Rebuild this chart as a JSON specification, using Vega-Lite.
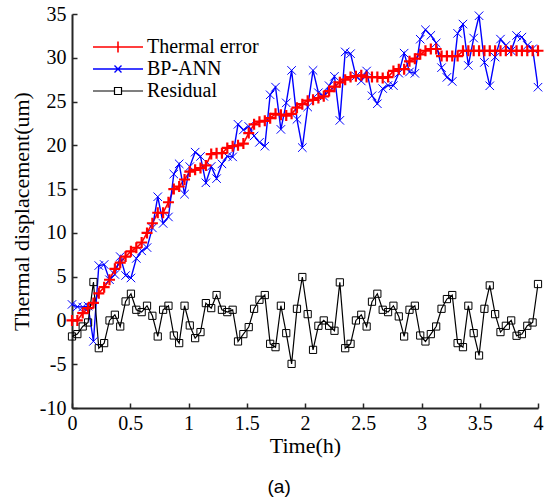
{
 "$schema": "https://vega.github.io/schema/vega-lite/v6.json",
 "width": 466,
 "height": 394,
 "autosize": {"type": "none"},
 "padding": {"left": 72, "top": 14, "right": 10, "bottom": 96},
 "background": "white",
 "config": {
  "view": {"stroke": null},
  "axis": {
   "grid": false,
   "domainColor": "#262626",
   "domainWidth": 2,
   "tickColor": "#262626",
   "tickWidth": 1.5,
   "tickSize": -5,
   "labelFont": "Liberation Serif",
   "labelFontSize": 20,
   "labelColor": "black",
   "titleFont": "Liberation Serif",
   "titleFontSize": 22,
   "titleFontWeight": "normal",
   "titleColor": "black",
   "labelFlush": false
  }
 },
 "title": {"text": "(a)", "orient": "bottom", "anchor": "middle", "frame": "bounds", "font": "Liberation Sans", "fontSize": 19, "fontWeight": "normal", "color": "black", "offset": 22},
 "data": {"values": [
{"t":0,"s":"Thermal error","v":0},{"t":0.046,"s":"Thermal error","v":0},{"t":0.092,"s":"Thermal error","v":0.84},{"t":0.138,"s":"Thermal error","v":1.4},{"t":0.184,"s":"Thermal error","v":2.0},{"t":0.23,"s":"Thermal error","v":3.1},{"t":0.276,"s":"Thermal error","v":3.8},{"t":0.322,"s":"Thermal error","v":4.65},{"t":0.368,"s":"Thermal error","v":5.9},{"t":0.414,"s":"Thermal error","v":6.6},
{"t":0.46,"s":"Thermal error","v":7.3},{"t":0.506,"s":"Thermal error","v":7.9},{"t":0.552,"s":"Thermal error","v":8.3},{"t":0.598,"s":"Thermal error","v":8.9},{"t":0.644,"s":"Thermal error","v":10.0},{"t":0.69,"s":"Thermal error","v":11.1},{"t":0.736,"s":"Thermal error","v":12.3},{"t":0.782,"s":"Thermal error","v":12.3},{"t":0.828,"s":"Thermal error","v":13.5},{"t":0.874,"s":"Thermal error","v":15.0},
{"t":0.92,"s":"Thermal error","v":15.3},{"t":0.966,"s":"Thermal error","v":16.1},{"t":1.011,"s":"Thermal error","v":17.0},{"t":1.057,"s":"Thermal error","v":17.2},{"t":1.103,"s":"Thermal error","v":17.4},{"t":1.149,"s":"Thermal error","v":17.7},{"t":1.195,"s":"Thermal error","v":19.0},{"t":1.241,"s":"Thermal error","v":19.1},{"t":1.287,"s":"Thermal error","v":19.1},{"t":1.333,"s":"Thermal error","v":19.7},
{"t":1.379,"s":"Thermal error","v":19.9},{"t":1.425,"s":"Thermal error","v":20.0},{"t":1.471,"s":"Thermal error","v":20.2},{"t":1.517,"s":"Thermal error","v":21.4},{"t":1.563,"s":"Thermal error","v":22.4},{"t":1.609,"s":"Thermal error","v":22.7},{"t":1.655,"s":"Thermal error","v":22.8},{"t":1.701,"s":"Thermal error","v":23.1},{"t":1.747,"s":"Thermal error","v":23.6},{"t":1.793,"s":"Thermal error","v":23.5},
{"t":1.839,"s":"Thermal error","v":23.4},{"t":1.885,"s":"Thermal error","v":23.6},{"t":1.931,"s":"Thermal error","v":24.3},{"t":1.977,"s":"Thermal error","v":24.7},{"t":2.023,"s":"Thermal error","v":25.1},{"t":2.069,"s":"Thermal error","v":25.2},{"t":2.115,"s":"Thermal error","v":25.4},{"t":2.161,"s":"Thermal error","v":25.6},{"t":2.207,"s":"Thermal error","v":26.2},{"t":2.253,"s":"Thermal error","v":26.7},
{"t":2.299,"s":"Thermal error","v":27.2},{"t":2.345,"s":"Thermal error","v":27.5},{"t":2.391,"s":"Thermal error","v":27.8},{"t":2.437,"s":"Thermal error","v":27.9},{"t":2.483,"s":"Thermal error","v":28.0},{"t":2.529,"s":"Thermal error","v":27.8},{"t":2.575,"s":"Thermal error","v":27.8},{"t":2.621,"s":"Thermal error","v":27.8},{"t":2.667,"s":"Thermal error","v":27.7},{"t":2.713,"s":"Thermal error","v":27.8},
{"t":2.759,"s":"Thermal error","v":28.5},{"t":2.805,"s":"Thermal error","v":28.7},{"t":2.851,"s":"Thermal error","v":28.7},{"t":2.897,"s":"Thermal error","v":29.6},{"t":2.943,"s":"Thermal error","v":29.9},{"t":2.989,"s":"Thermal error","v":30.4},{"t":3.034,"s":"Thermal error","v":30.8},{"t":3.08,"s":"Thermal error","v":31.0},{"t":3.126,"s":"Thermal error","v":31.0},{"t":3.172,"s":"Thermal error","v":30.2},
{"t":3.218,"s":"Thermal error","v":30.2},{"t":3.264,"s":"Thermal error","v":30.2},{"t":3.31,"s":"Thermal error","v":30.2},{"t":3.356,"s":"Thermal error","v":30.8},{"t":3.402,"s":"Thermal error","v":30.8},{"t":3.448,"s":"Thermal error","v":30.8},{"t":3.494,"s":"Thermal error","v":30.8},{"t":3.54,"s":"Thermal error","v":30.8},{"t":3.586,"s":"Thermal error","v":30.8},{"t":3.632,"s":"Thermal error","v":30.8},
{"t":3.678,"s":"Thermal error","v":30.8},{"t":3.724,"s":"Thermal error","v":30.8},{"t":3.77,"s":"Thermal error","v":30.8},{"t":3.816,"s":"Thermal error","v":30.8},{"t":3.862,"s":"Thermal error","v":30.8},{"t":3.908,"s":"Thermal error","v":30.8},{"t":3.954,"s":"Thermal error","v":30.8},{"t":4.0,"s":"Thermal error","v":30.8},
{"t":0,"s":"BP-ANN","v":1.83},{"t":0.046,"s":"BP-ANN","v":1.56},{"t":0.092,"s":"BP-ANN","v":1.53},{"t":0.138,"s":"BP-ANN","v":1.63},{"t":0.184,"s":"BP-ANN","v":-2.39},{"t":0.23,"s":"BP-ANN","v":6.27},{"t":0.276,"s":"BP-ANN","v":6.39},{"t":0.322,"s":"BP-ANN","v":4.65},{"t":0.368,"s":"BP-ANN","v":5.25},{"t":0.414,"s":"BP-ANN","v":7.29},
{"t":0.46,"s":"BP-ANN","v":5.13},{"t":0.506,"s":"BP-ANN","v":4.85},{"t":0.552,"s":"BP-ANN","v":7.08},{"t":0.598,"s":"BP-ANN","v":7.95},{"t":0.644,"s":"BP-ANN","v":8.32},{"t":0.69,"s":"BP-ANN","v":10.57},{"t":0.736,"s":"BP-ANN","v":14.13},{"t":0.782,"s":"BP-ANN","v":11.08},{"t":0.828,"s":"BP-ANN","v":11.82},{"t":0.874,"s":"BP-ANN","v":16.72},
{"t":0.92,"s":"BP-ANN","v":17.89},{"t":0.966,"s":"BP-ANN","v":14.42},{"t":1.011,"s":"BP-ANN","v":17.57},{"t":1.057,"s":"BP-ANN","v":19.22},{"t":1.103,"s":"BP-ANN","v":18.73},{"t":1.149,"s":"BP-ANN","v":15.72},{"t":1.195,"s":"BP-ANN","v":17.59},{"t":1.241,"s":"BP-ANN","v":16.2},{"t":1.287,"s":"BP-ANN","v":17.88},{"t":1.333,"s":"BP-ANN","v":18.75},
{"t":1.379,"s":"BP-ANN","v":18.68},{"t":1.425,"s":"BP-ANN","v":22.4},{"t":1.471,"s":"BP-ANN","v":21.76},{"t":1.517,"s":"BP-ANN","v":22.16},{"t":1.563,"s":"BP-ANN","v":21.07},{"t":1.609,"s":"BP-ANN","v":20.34},{"t":1.655,"s":"BP-ANN","v":19.9},{"t":1.701,"s":"BP-ANN","v":25.77},{"t":1.747,"s":"BP-ANN","v":26.65},{"t":1.793,"s":"BP-ANN","v":21.82},
{"t":1.839,"s":"BP-ANN","v":24.85},{"t":1.885,"s":"BP-ANN","v":28.56},{"t":1.931,"s":"BP-ANN","v":22.97},{"t":1.977,"s":"BP-ANN","v":19.74},{"t":2.023,"s":"BP-ANN","v":24.38},{"t":2.069,"s":"BP-ANN","v":28.56},{"t":2.115,"s":"BP-ANN","v":26.01},{"t":2.161,"s":"BP-ANN","v":25.6},{"t":2.207,"s":"BP-ANN","v":26.81},{"t":2.253,"s":"BP-ANN","v":27.88},
{"t":2.299,"s":"BP-ANN","v":22.85},{"t":2.345,"s":"BP-ANN","v":30.67},{"t":2.391,"s":"BP-ANN","v":30.47},{"t":2.437,"s":"BP-ANN","v":27.9},{"t":2.483,"s":"BP-ANN","v":27.35},{"t":2.529,"s":"BP-ANN","v":28.49},{"t":2.575,"s":"BP-ANN","v":25.66},{"t":2.621,"s":"BP-ANN","v":24.75},{"t":2.667,"s":"BP-ANN","v":26.48},{"t":2.713,"s":"BP-ANN","v":26.85},
{"t":2.759,"s":"BP-ANN","v":26.82},{"t":2.805,"s":"BP-ANN","v":28.24},{"t":2.851,"s":"BP-ANN","v":30.53},{"t":2.897,"s":"BP-ANN","v":28.38},{"t":2.943,"s":"BP-ANN","v":28.22},{"t":2.989,"s":"BP-ANN","v":32.12},{"t":3.034,"s":"BP-ANN","v":33.2},{"t":3.08,"s":"BP-ANN","v":32.56},{"t":3.126,"s":"BP-ANN","v":31.69},{"t":3.172,"s":"BP-ANN","v":28.87},
{"t":3.218,"s":"BP-ANN","v":27.76},{"t":3.264,"s":"BP-ANN","v":27.3},{"t":3.31,"s":"BP-ANN","v":32.79},{"t":3.356,"s":"BP-ANN","v":33.85},{"t":3.402,"s":"BP-ANN","v":29.12},{"t":3.448,"s":"BP-ANN","v":32.25},{"t":3.494,"s":"BP-ANN","v":34.8},{"t":3.54,"s":"BP-ANN","v":29.47},{"t":3.586,"s":"BP-ANN","v":26.8},{"t":3.632,"s":"BP-ANN","v":30.08},
{"t":3.678,"s":"BP-ANN","v":32.13},{"t":3.724,"s":"BP-ANN","v":31.41},{"t":3.77,"s":"BP-ANN","v":30.8},{"t":3.816,"s":"BP-ANN","v":32.55},{"t":3.862,"s":"BP-ANN","v":32.36},{"t":3.908,"s":"BP-ANN","v":31.41},{"t":3.954,"s":"BP-ANN","v":31.03},{"t":4.0,"s":"BP-ANN","v":26.64},
{"t":0,"s":"Residual","v":-1.83},{"t":0.046,"s":"Residual","v":-1.56},{"t":0.092,"s":"Residual","v":-0.69},{"t":0.138,"s":"Residual","v":-0.23},{"t":0.184,"s":"Residual","v":4.39},{"t":0.23,"s":"Residual","v":-3.17},{"t":0.276,"s":"Residual","v":-2.59},{"t":0.322,"s":"Residual","v":0},{"t":0.368,"s":"Residual","v":0.65},{"t":0.414,"s":"Residual","v":-0.69},
{"t":0.46,"s":"Residual","v":2.17},{"t":0.506,"s":"Residual","v":3.05},{"t":0.552,"s":"Residual","v":1.22},{"t":0.598,"s":"Residual","v":0.95},{"t":0.644,"s":"Residual","v":1.68},{"t":0.69,"s":"Residual","v":0.53},{"t":0.736,"s":"Residual","v":-1.83},{"t":0.782,"s":"Residual","v":1.22},{"t":0.828,"s":"Residual","v":1.68},{"t":0.874,"s":"Residual","v":-1.72},
{"t":0.92,"s":"Residual","v":-2.59},{"t":0.966,"s":"Residual","v":1.68},{"t":1.011,"s":"Residual","v":-0.57},{"t":1.057,"s":"Residual","v":-2.02},{"t":1.103,"s":"Residual","v":-1.33},{"t":1.149,"s":"Residual","v":1.98},{"t":1.195,"s":"Residual","v":1.41},{"t":1.241,"s":"Residual","v":2.9},{"t":1.287,"s":"Residual","v":1.22},{"t":1.333,"s":"Residual","v":0.95},
{"t":1.379,"s":"Residual","v":1.22},{"t":1.425,"s":"Residual","v":-2.4},{"t":1.471,"s":"Residual","v":-1.56},{"t":1.517,"s":"Residual","v":-0.76},{"t":1.563,"s":"Residual","v":1.33},{"t":1.609,"s":"Residual","v":2.36},{"t":1.655,"s":"Residual","v":2.9},{"t":1.701,"s":"Residual","v":-2.67},{"t":1.747,"s":"Residual","v":-3.05},{"t":1.793,"s":"Residual","v":1.68},
{"t":1.839,"s":"Residual","v":-1.45},{"t":1.885,"s":"Residual","v":-4.96},{"t":1.931,"s":"Residual","v":1.33},{"t":1.977,"s":"Residual","v":4.96},{"t":2.023,"s":"Residual","v":0.72},{"t":2.069,"s":"Residual","v":-3.36},{"t":2.115,"s":"Residual","v":-0.61},{"t":2.161,"s":"Residual","v":0},{"t":2.207,"s":"Residual","v":-0.61},{"t":2.253,"s":"Residual","v":-1.18},
{"t":2.299,"s":"Residual","v":4.35},{"t":2.345,"s":"Residual","v":-3.17},{"t":2.391,"s":"Residual","v":-2.67},{"t":2.437,"s":"Residual","v":0},{"t":2.483,"s":"Residual","v":0.65},{"t":2.529,"s":"Residual","v":-0.69},{"t":2.575,"s":"Residual","v":2.14},{"t":2.621,"s":"Residual","v":3.05},{"t":2.667,"s":"Residual","v":1.22},{"t":2.713,"s":"Residual","v":0.95},
{"t":2.759,"s":"Residual","v":1.68},{"t":2.805,"s":"Residual","v":0.46},{"t":2.851,"s":"Residual","v":-1.83},{"t":2.897,"s":"Residual","v":1.22},{"t":2.943,"s":"Residual","v":1.68},{"t":2.989,"s":"Residual","v":-1.72},{"t":3.034,"s":"Residual","v":-2.4},{"t":3.08,"s":"Residual","v":-1.56},{"t":3.126,"s":"Residual","v":-0.69},{"t":3.172,"s":"Residual","v":1.33},
{"t":3.218,"s":"Residual","v":2.44},{"t":3.264,"s":"Residual","v":2.9},{"t":3.31,"s":"Residual","v":-2.59},{"t":3.356,"s":"Residual","v":-3.05},{"t":3.402,"s":"Residual","v":1.68},{"t":3.448,"s":"Residual","v":-1.45},{"t":3.494,"s":"Residual","v":-4.0},{"t":3.54,"s":"Residual","v":1.33},{"t":3.586,"s":"Residual","v":4.0},{"t":3.632,"s":"Residual","v":0.72},
{"t":3.678,"s":"Residual","v":-1.33},{"t":3.724,"s":"Residual","v":-0.61},{"t":3.77,"s":"Residual","v":0},{"t":3.816,"s":"Residual","v":-1.75},{"t":3.862,"s":"Residual","v":-1.56},{"t":3.908,"s":"Residual","v":-0.61},{"t":3.954,"s":"Residual","v":-0.23},{"t":4.0,"s":"Residual","v":4.16}
 ]},
 "encoding": {
  "x": {"field": "t", "type": "quantitative", "scale": {"domain": [0, 4], "nice": false},
        "axis": {"title": "Time(h)", "values": [0, 0.5, 1, 1.5, 2, 2.5, 3, 3.5, 4], "labelExpr": "'' + datum.value", "labelPadding": 10, "titlePadding": 2}},
  "y": {"field": "v", "type": "quantitative", "scale": {"domain": [-10, 35], "nice": false},
        "axis": {"title": "Thermal displacement(um)", "values": [-10, -5, 0, 5, 10, 15, 20, 25, 30, 35], "labelExpr": "'' + datum.value", "labelPadding": 11, "titlePadding": 6}}
 },
 "layer": [
  {
   "mark": {"type": "line", "clip": true},
   "encoding": {
    "color": {"field": "s", "type": "nominal",
      "scale": {"domain": ["Thermal error", "BP-ANN", "Residual"], "range": ["#ff0000", "#0000ff", "#000000"]},
      "legend": {
        "title": null, "orient": "none", "legendX": 35, "legendY": 22, "padding": 0,
        "labelFont": "Liberation Serif", "labelFontSize": 20, "labelColor": "black",
        "symbolSize": 400, "symbolStrokeWidth": 2, "labelOffset": 18, "rowPadding": 1,
        "encode": {"symbols": {"update": {
          "shape": {"signal": "datum.value === 'Thermal error' ? 'M-2.5,0H2.5M0,-0.55V0.55' : datum.value === 'BP-ANN' ? 'M-2.5,0H2.5M-0.35,-0.35L0.35,0.35M-0.35,0.35L0.35,-0.35' : 'M-2.5,0H-0.35M0.35,0H2.5M-0.35,-0.35H0.35V0.35H-0.35Z'"},
          "fill": {"value": "transparent"}}}}
      }},
    "strokeWidth": {"field": "s", "type": "nominal", "scale": {"domain": ["Thermal error", "BP-ANN", "Residual"], "range": [1.6, 1.2, 1]}, "legend": null}
   }
  },
  {
   "transform": [{"filter": {"field": "s", "equal": "BP-ANN"}}],
   "mark": {"type": "point", "shape": "M-1,-1L1,1M-1,1L1,-1", "size": 72, "stroke": "#0000ff", "strokeWidth": 1, "filled": false, "opacity": 1}
  },
  {
   "transform": [{"filter": {"field": "s", "equal": "Thermal error"}}],
   "mark": {"type": "point", "shape": "M-1,0H1M0,-1V1", "size": 121, "stroke": "#ff0000", "strokeWidth": 2.2, "filled": false, "opacity": 1}
  },
  {
   "transform": [{"filter": {"field": "s", "equal": "Residual"}}],
   "mark": {"type": "point", "shape": "square", "size": 52, "stroke": "#000000", "strokeWidth": 1, "filled": false, "opacity": 1}
  }
 ]
}
